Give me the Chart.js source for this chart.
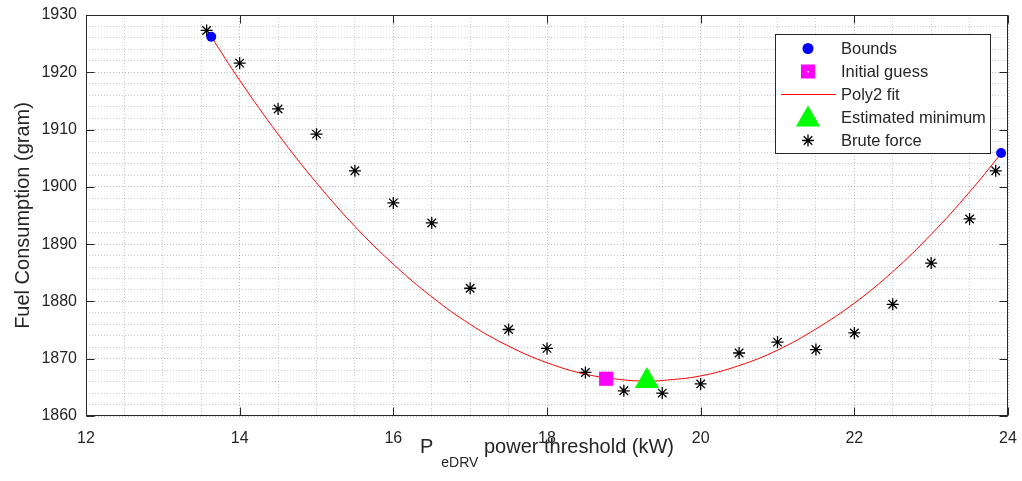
<!DOCTYPE html>
<html>
<head>
<meta charset="utf-8">
<title>Fuel consumption vs PeDRV threshold</title>
<script src="https://cdn.jsdelivr.net/npm/chart.js@4.4.1/dist/chart.umd.min.js"></script>
<style>
    html, body { margin: 0; padding: 0; background: #fff; }
    #wrap { width: 1022px; height: 481px; }
</style>
</head>
<body>
<div id="wrap"><canvas id="fuelChart" width="1022" height="481"></canvas></div>
<script>
// Data
const boundsX = [13.63, 23.91];
const boundsY = [1926.2, 1905.9];

const guessX = [18.77];
const guessY = [1866.5];

const minimumX = [19.3];
const minimumY = [1866.1];

const fitX = [13.63, 14, 14.5, 15, 15.5, 16, 16.5, 17, 17.5, 18, 18.5, 19, 19.3,
              19.5, 20, 20.5, 21, 21.5, 22, 22.5, 23, 23.5, 23.91];
const fitY = [1926.2, 1918.6, 1909.2, 1900.7, 1893.1, 1886.5, 1880.8, 1876.0, 1872.2, 1869.3, 1867.3, 1866.3, 1866.1,
              1866.2, 1867.0, 1868.8, 1871.5, 1875.2, 1879.7, 1885.2, 1891.7, 1899.1, 1905.8];

const bruteX = [13.57, 14, 14.5, 15, 15.5, 16, 16.5, 17, 17.5, 18, 18.5, 19,
                19.5, 20, 20.5, 21, 21.5, 22, 22.5, 23, 23.5, 23.84];
const bruteY = [1927.3, 1921.6, 1913.6, 1909.2, 1902.8, 1897.2, 1893.7, 1882.3, 1875.1, 1871.8, 1867.6, 1864.4,
                1864.0, 1865.6, 1871.0, 1872.9, 1871.6, 1874.5, 1879.5, 1886.7, 1894.4, 1902.8];

const xTickLabels = [12, 14, 16, 18, 20, 22, 24];
const yTickLabels = [1860, 1870, 1880, 1890, 1900, 1910, 1920, 1930];

const FONT = "'Liberation Sans', Arial, Helvetica, sans-serif";
const TEXT = '#262626';

// Helpers
function toPoints(xs, ys) {
    return xs.map((x, i) => ({ x: x, y: ys[i] }));
}

function drawMarker(ctx, style, x, y) {
    ctx.save();
    ctx.beginPath();
    if (style === 'circle') {
        ctx.fillStyle = '#0000ff';
        ctx.arc(x, y, 5.5, 0, Math.PI * 2);
        ctx.fill();
    } else if (style === 'rect') {
        ctx.fillStyle = '#ff00ff';
        ctx.fillRect(x - 7, y - 7, 14, 14);
        ctx.fillStyle = '#ffffff';
        ctx.fillRect(x - 0.5, y - 0.5, 1.5, 1.5);
    } else if (style === 'triangle') {
        ctx.fillStyle = '#00ff00';
        ctx.moveTo(x, y - 14);
        ctx.lineTo(x + 12.1, y + 7);
        ctx.lineTo(x - 12.1, y + 7);
        ctx.closePath();
        ctx.fill();
    } else if (style === 'star') {
        const r = 6, d = r * Math.SQRT1_2;
        ctx.strokeStyle = '#000';
        ctx.lineWidth = 1.3;
        ctx.moveTo(x - r, y); ctx.lineTo(x + r, y);
        ctx.moveTo(x, y - r); ctx.lineTo(x, y + r);
        ctx.moveTo(x - d, y - d); ctx.lineTo(x + d, y + d);
        ctx.moveTo(x - d, y + d); ctx.lineTo(x + d, y - d);
        ctx.stroke();
    } else if (style === 'line') {
        ctx.strokeStyle = '#ff0000';
        ctx.lineWidth = 1;
        ctx.moveTo(x - 27, y); ctx.lineTo(x + 28, y);
        ctx.stroke();
    }
    ctx.restore();
}

// Box, inward ticks, axis titles and legend (MATLAB look)
const matlabFrame = {
    id: 'matlabFrame',
    afterDraw(chart) {
        const ctx = chart.ctx;
        const { left, right, top, bottom } = chart.chartArea;
        const xs = chart.scales.x, ys = chart.scales.y;
        const L = Math.round(left) + 0.5, R = Math.round(right) - 0.5;
        const T = Math.round(top) + 0.5, B = Math.round(bottom) - 0.5;

        ctx.save();
        ctx.strokeStyle = TEXT;
        ctx.lineWidth = 1;
        ctx.beginPath();
        xTickLabels.forEach(v => {
            const px = Math.round(xs.getPixelForValue(v)) + 0.5;
            ctx.moveTo(px, B); ctx.lineTo(px, B - 8);
            ctx.moveTo(px, T); ctx.lineTo(px, T + 8);
        });
        yTickLabels.forEach(v => {
            const py = Math.round(ys.getPixelForValue(v)) + 0.5;
            ctx.moveTo(L, py); ctx.lineTo(L + 8, py);
            ctx.moveTo(R, py); ctx.lineTo(R - 8, py);
        });
        ctx.stroke();
        ctx.strokeRect(L, T, R - L, B - T);

        // y title
        ctx.fillStyle = TEXT;
        ctx.save();
        ctx.translate(23, (top + bottom) / 2);
        ctx.rotate(-Math.PI / 2);
        ctx.textAlign = 'center';
        ctx.textBaseline = 'middle';
        ctx.font = '20px ' + FONT;
        ctx.fillText('Fuel Consumption (gram)', 0, 0);
        ctx.restore();

        // x title with subscript
        const mainFont = '20px ' + FONT, subFont = '14px ' + FONT;
        const rest = ' power threshold (kW)';
        ctx.font = mainFont;
        const wP = ctx.measureText('P').width;
        const wRest = ctx.measureText(rest).width;
        ctx.font = subFont;
        const wSub = ctx.measureText('eDRV').width;
        const gap = 8;
        const total = wP + gap + wSub + wRest;
        let cx = (left + right) / 2 - total / 2;
        const base = 453;
        ctx.textAlign = 'left';
        ctx.textBaseline = 'alphabetic';
        ctx.font = mainFont;
        ctx.fillText('P', cx, base);
        cx += wP + gap;
        ctx.font = subFont;
        ctx.fillText('eDRV', cx, base + 14);
        cx += wSub;
        ctx.font = mainFont;
        ctx.fillText(rest, cx, base);

        // legend
        const bx = 775.5, by = 34.5, bw = 215, bh = 119;
        ctx.fillStyle = '#ffffff';
        ctx.fillRect(bx, by, bw, bh);
        ctx.strokeStyle = TEXT;
        ctx.strokeRect(bx, by, bw, bh);
        const items = [
            ['circle', 'Bounds'],
            ['rect', 'Initial guess'],
            ['line', 'Poly2 fit'],
            ['triangle', 'Estimated minimum'],
            ['star', 'Brute force']
        ];
        ctx.font = '16.5px ' + FONT;
        ctx.textBaseline = 'middle';
        items.forEach((it, i) => {
            const y = 48.5 + i * 23;
            drawMarker(ctx, it[0], 808, it[0] === 'triangle' ? y + 2 : y);
            ctx.fillStyle = TEXT;
            ctx.fillText(it[1], 841, y + 1);
        });
        ctx.restore();
    }
};

// Chart
const ctx = document.getElementById('fuelChart').getContext('2d');

const fuelChart = new Chart(ctx, {
    type: 'scatter',
    data: {
        datasets: [
            {
                label: 'Bounds',
                data: toPoints(boundsX, boundsY),
                pointStyle: 'circle',
                pointRadius: 5,
                backgroundColor: '#0000ff',
                borderColor: '#0000ff',
                borderWidth: 0,
                order: 1
            },
            {
                label: 'Initial guess',
                data: toPoints(guessX, guessY),
                pointStyle: 'rect',
                pointRadius: 10,
                backgroundColor: '#ff00ff',
                borderColor: '#ff00ff',
                borderWidth: 0,
                order: 0
            },
            {
                label: 'Poly2 fit',
                data: toPoints(fitX, fitY),
                showLine: true,
                pointRadius: 0,
                borderColor: '#ff0000',
                borderWidth: 1,
                tension: 0.4,
                fill: false,
                order: 5
            },
            {
                label: 'Estimated minimum',
                data: toPoints(minimumX, minimumY),
                pointStyle: 'triangle',
                pointRadius: 14,
                backgroundColor: '#00ff00',
                borderColor: '#00ff00',
                borderWidth: 0,
                order: 0
            },
            {
                label: 'Brute force',
                data: toPoints(bruteX, bruteY),
                pointStyle: 'star',
                pointRadius: 6,
                backgroundColor: '#000000',
                borderColor: '#000000',
                borderWidth: 1.3,
                order: 2
            }
        ]
    },
    options: {
        animation: false,
        responsive: false,
        devicePixelRatio: 1,
        layout: {
            padding: { top: 15, right: 13, left: 0, bottom: 0 }
        },
        plugins: {
            legend: { display: false },
            tooltip: { enabled: false }
        },
        scales: {
            x: {
                type: 'linear',
                min: 12,
                max: 24,
                afterFit: scale => {
                    scale.height = 65;
                    scale.paddingLeft = 0;
                    scale.paddingRight = 0;
                },
                ticks: {
                    stepSize: 0.5,
                    maxTicksLimit: 100,
                    autoSkip: false,
                    maxRotation: 0,
                    padding: 13,
                    color: TEXT,
                    font: { family: FONT, size: 16 },
                    callback: value => xTickLabels.includes(value) ? String(value) : ''
                },
                grid: {
                    drawTicks: false,
                    lineWidth: 1,
                    color: c => (c.tick && xTickLabels.includes(c.tick.value)) ? 'rgba(0,0,0,0.26)' : 'rgba(0,0,0,0.2)'
                },
                border: { display: false, dash: [1, 2] }
            },
            y: {
                type: 'linear',
                min: 1860,
                max: 1930,
                afterFit: scale => {
                    scale.width = 86;
                    scale.paddingTop = 0;
                    scale.paddingBottom = 0;
                },
                ticks: {
                    stepSize: 2,
                    maxTicksLimit: 100,
                    autoSkip: false,
                    padding: 9,
                    color: TEXT,
                    font: { family: FONT, size: 16 },
                    callback: value => yTickLabels.includes(value) ? String(value) : ''
                },
                grid: {
                    drawTicks: false,
                    lineWidth: 1,
                    color: c => (c.tick && yTickLabels.includes(c.tick.value)) ? 'rgba(0,0,0,0.26)' : 'rgba(0,0,0,0.2)'
                },
                border: { display: false, dash: [1, 2] }
            }
        }
    },
    plugins: [matlabFrame]
});
</script>
</body>
</html>
